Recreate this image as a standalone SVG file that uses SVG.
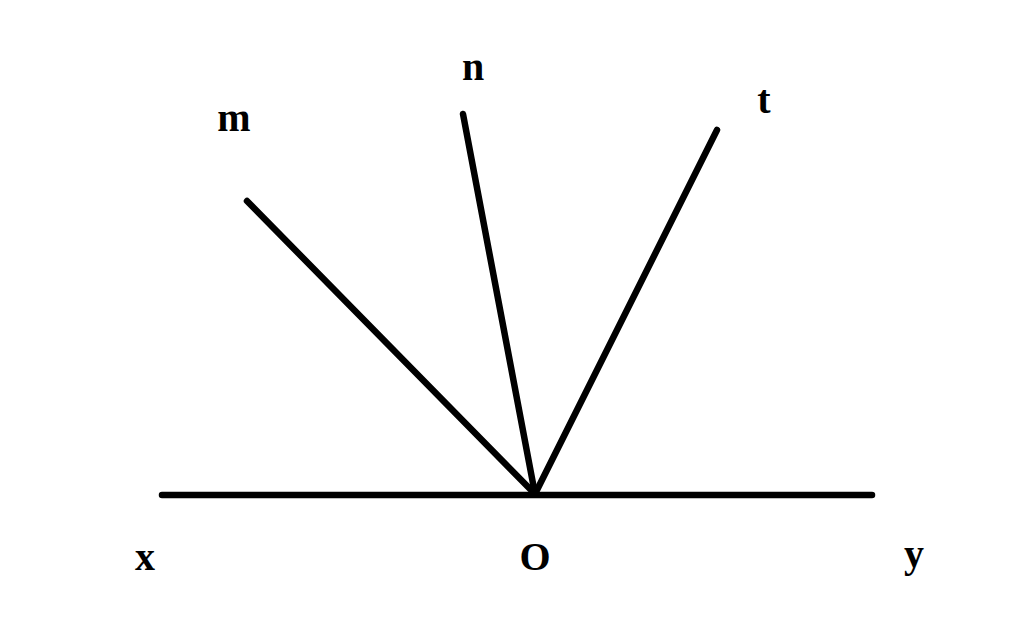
<svg xmlns="http://www.w3.org/2000/svg" width="1024" height="624" viewBox="0 0 1024 624">
<style>
.ln{stroke:#000;stroke-width:6.5;stroke-linecap:round;fill:none}
.lb{font-family:"Liberation Serif","Times New Roman",serif;font-weight:bold;font-size:40px;fill:#000}
</style>
<rect width="1024" height="624" fill="#fff"/>
<g id="connectors">
<line class="ln" x1="162" y1="495" x2="872" y2="495"/>
<line class="ln" x1="247" y1="201" x2="535" y2="494"/>
<line class="ln" x1="463" y1="114" x2="535" y2="494"/>
<line class="ln" x1="717" y1="130" x2="535" y2="494"/>
</g>
<g id="m"><text class="lb" x="234" y="131" text-anchor="middle">m</text></g>
<g id="n"><text class="lb" x="473" y="80" text-anchor="middle">n</text></g>
<g id="t"><text class="lb" x="764" y="113" text-anchor="middle">t</text></g>
<g id="x"><text class="lb" x="145" y="570" text-anchor="middle">x</text></g>
<g id="O"><text class="lb" x="535" y="570" text-anchor="middle">O</text></g>
<g id="y"><text class="lb" x="914" y="567" text-anchor="middle">y</text></g>
</svg>
